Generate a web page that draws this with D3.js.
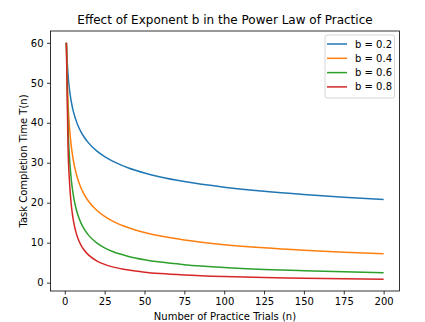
<!DOCTYPE html>
<html><head><meta charset="utf-8">
<script src="https://cdn.jsdelivr.net/npm/d3@7"></script>
<style>body{margin:0;background:#fff}svg{font-family:"DejaVu Sans",sans-serif}</style>
</head><body>
<script>
const trials = [1,2,3,4,5,6,7,8,10,12,15,20,25,30,40,50,60,75,100,125,150,175,200];
const b02 = [60,52.23,48.17,45.47,43.49,41.93,40.66,39.59,37.86,36.50,34.91,32.96,31.52,30.39,28.69,27.44,26.45,25.30,23.89,22.84,22.03,21.36,20.80];
const b04 = [60,45.47,38.67,34.46,31.52,29.30,27.55,26.12,23.89,22.21,20.31,18.10,16.56,15.39,13.72,12.55,11.66,10.67,9.51,8.70,8.09,7.60,7.21];
const b06 = [60,39.59,31.04,26.12,22.84,20.47,18.67,17.23,15.07,13.51,11.82,9.94,8.70,7.79,6.56,5.74,5.14,4.50,3.79,3.31,2.97,2.71,2.50];
const b08 = [60,34.46,24.92,19.79,16.56,14.31,12.65,11.37,9.51,8.22,6.88,5.46,4.57,3.95,3.14,2.62,2.27,1.90,1.51,1.26,1.09,0.96,0.87];
const seriesNames = ["b = 0.2","b = 0.4","b = 0.6","b = 0.8"];
const seriesValues = [b02,b04,b06,b08];
const colors = ["#1f77b4","#ff7f0e","#2ca02c","#d62728"];
const xTicks = [0,25,50,75,100,125,150,175,200];
const yTicks = [0,10,20,30,40,50,60];

const W=425,H=322, L=50.5, R=399.5, T=31, B=291;
const svg=d3.select("body").append("svg").attr("width",W).attr("height",H);
const x=d3.scaleLinear().domain([-8.95,209.95]).range([L,R]);
const y=d3.scaleLinear().domain([-2.09,62.96]).range([B,T]);

const line=d3.line().x(d=>x(d[0])).y(d=>y(d[1])).curve(d3.curveMonotoneX);
seriesValues.forEach((vals,i)=>{
  svg.append("path").datum(trials.map((n,j)=>[n,vals[j]]))
    .attr("d",line).attr("fill","none").attr("stroke",colors[i]).attr("stroke-width",1.5);
});

svg.append("rect").attr("x",L).attr("y",T).attr("width",R-L).attr("height",B-T)
  .attr("fill","none").attr("stroke","#000").attr("stroke-width",0.8);

const xa=svg.append("g").attr("transform",`translate(0,${B})`)
  .call(d3.axisBottom(x).tickValues(xTicks).tickSize(3.5).tickPadding(3.5));
const ya=svg.append("g").attr("transform",`translate(${L},0)`)
  .call(d3.axisLeft(y).tickValues(yTicks).tickSize(3.5).tickPadding(3.5));
[xa,ya].forEach(a=>{a.select(".domain").remove();
  a.selectAll("text").attr("font-size",10).attr("fill","#000").attr("font-family","DejaVu Sans");
  a.selectAll("line").attr("stroke","#000").attr("stroke-width",0.8);});

svg.append("text").attr("x",(L+R)/2).attr("y",24).attr("text-anchor","middle")
  .attr("font-size",12).text("Effect of Exponent b in the Power Law of Practice");
svg.append("text").attr("x",(L+R)/2).attr("y",319.5).attr("text-anchor","middle")
  .attr("font-size",10).text("Number of Practice Trials (n)");
svg.append("text").attr("transform",`translate(27,${(T+B)/2}) rotate(-90)`).attr("text-anchor","middle")
  .attr("font-size",10).text("Task Completion Time T(n)");

const lg=svg.append("g");
lg.append("rect").attr("x",325).attr("y",35).attr("width",69.5).attr("height",63).attr("rx",2)
  .attr("fill","#fff").attr("fill-opacity",0.8).attr("stroke","#ccc").attr("stroke-width",0.8);
seriesNames.forEach((s,i)=>{
  const yy=44+i*14.3;
  lg.append("line").attr("x1",327).attr("x2",347).attr("y1",yy).attr("y2",yy)
    .attr("stroke",colors[i]).attr("stroke-width",1.5);
  lg.append("text").attr("x",355).attr("y",yy+3.5).attr("font-size",10).text(s);
});
</script>
</body></html>
